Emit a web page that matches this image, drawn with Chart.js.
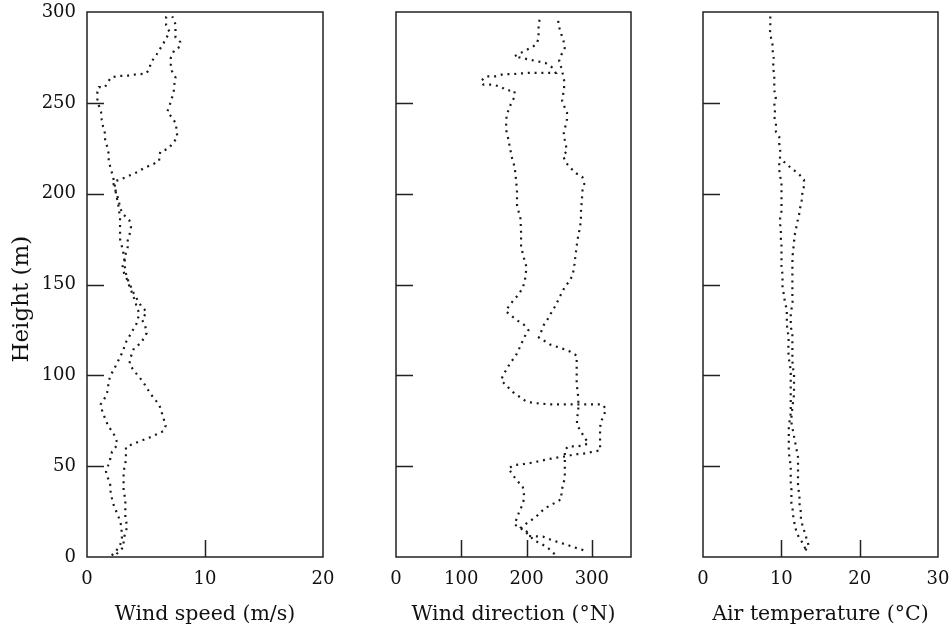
<!DOCTYPE html>
<html>
<head>
<meta charset="utf-8">
<script src="https://cdn.jsdelivr.net/npm/chart.js@4.4.0/dist/chart.umd.min.js"></script>
<style>
  html, body { margin: 0; padding: 0; background: #fff; }
  #wrap { position: relative; width: 951px; height: 627px; overflow: hidden; }
  #wrap canvas { position: absolute; top: 0; }
</style>
</head>
<body>
<div id="wrap">
  <canvas id="speed" style="left:0px" width="345" height="627"></canvas>
  <canvas id="dir" style="left:345px" width="310" height="627"></canvas>
  <canvas id="temp" style="left:655px" width="296" height="627"></canvas>
</div>
<script>
// Profile traces as [value, height (m)] pairs, two passes per variable
const speedA = [[2.1,0.8],[2.74,5.5],[2.97,9.6],[2.91,17],[2.74,21],[2.29,28],[2.12,32],[2.0,36],[2.0,39],[1.8,43],[1.61,47],[1.8,50.5],[1.97,54],[2.12,58],[2.6,62],[2.4,66],[2.15,69],[1.8,72],[1.3,80],[1.16,84],[1.6,88.5],[1.8,92.5],[1.8,96],[2.0,100],[2.3,103.5],[2.8,110],[3.08,114],[3.28,118],[3.59,121.5],[4.2,128.5],[4.43,134],[4.2,138],[4.07,141],[3.84,145],[3.59,149],[3.45,152],[3.15,156],[3.02,160],[3.16,164],[3.08,167.5],[2.94,171.5],[2.8,175],[2.8,179],[2.8,183],[2.8,187],[2.7,191],[2.63,195],[2.47,199],[2.4,203],[2.3,206.5],[2.15,210.7],[2.0,214],[1.84,218],[1.84,222],[1.7,226],[1.53,230],[1.53,233],[1.36,237],[1.24,241],[1.19,245],[1.0,248.6],[0.88,252],[0.88,256],[1.0,258.7],[1.5,258.5],[2.03,264],[2.74,264.8],[3.5,265],[4.2,265.7],[4.97,266],[5.28,268.3],[5.4,272],[5.9,276.6],[6.5,283],[7.0,289],[6.7,292.7],[6.7,297],[6.9,299]];
const speedB = [[2.5,1.6],[3.1,5.5],[3.1,9.6],[3.25,13.4],[3.42,17],[3.25,21],[3.25,24.4],[3.25,28],[3.25,32],[3.1,36],[3.1,39.6],[3.1,43.2],[3.1,47.3],[3.25,51],[3.3,56],[3.3,60.6],[4.6,64],[5.28,65.7],[5.9,67.5],[6.5,69.4],[6.67,72.3],[6.5,76],[6.33,79.6],[6.13,83.7],[5.37,89.9],[5.06,93.2],[4.72,96.7],[4.35,99.6],[3.92,103],[3.6,106.4],[3.7,110],[3.98,114.9],[4.58,117.8],[5.06,123.3],[4.93,127.2],[4.66,130.7],[5.06,134.9],[4.6,138],[4.3,141.3],[3.95,145.3],[3.7,149],[3.5,152],[3.3,156],[3.2,160],[3.2,164],[3.28,167],[3.45,170.6],[3.45,174.3],[3.64,178.3],[3.73,182],[3.59,185.3],[3.08,188.6],[2.8,192],[2.7,196],[2.5,200],[2.2,206.4],[3.0,208.3],[3.6,210],[4.3,212],[4.8,214],[5.5,216],[6.1,217.8],[6.2,223],[6.9,224.8],[7.3,228],[7.65,231],[7.6,235],[7.5,239],[7.2,242],[6.8,245],[7.0,248.6],[7.2,252.7],[7.35,256.5],[7.4,260],[7.5,264],[7.2,267.4],[7.1,271],[7.1,274.7],[7.4,279],[7.9,281],[7.9,283.5],[7.5,286],[7.5,289.6],[7.5,293.2],[7.23,297.6]];

const dirA = [[243,1.6],[232.8,5],[222.5,7.3],[212,9],[204,12],[196,14.5],[189,16.4],[181.3,17.9],[185.4,21.5],[189,25.2],[193.1,28.3],[196.7,32.5],[194.2,38.9],[185.4,42],[178.7,45.3],[172.1,48.8],[181.3,50.6],[195.7,51.2],[209.6,52],[222.5,53],[235.2,54],[248.3,54.8],[262,55.5],[273,56.5],[287.5,56.9],[299.8,57.8],[312.6,58.7],[312.6,62.4],[312.6,66.4],[312.6,70.3],[313.6,74.3],[318.8,78],[321.4,81.6],[316.2,84],[303.4,84],[289.5,84],[276.6,84],[262.7,84],[248.3,84],[235.2,84],[223.5,84.4],[209.6,84.8],[198.3,85.9],[188,88.5],[178.7,90.9],[170,94],[161,97.3],[164.6,100.4],[170,103.7],[176.1,107.4],[183,110.4],[188,114.1],[196.7,121.1],[202.9,124.8],[195.7,128],[185.4,130.3],[176.1,133],[168.4,135.2],[173.6,138.6],[188,144.6],[194.2,148.3],[197.4,152],[200,159.6],[196.9,163.3],[191.6,170.7],[191.6,178.9],[190.7,186.2],[185.4,193.6],[185.4,201],[184.4,205.5],[182.3,213],[180.3,216.7],[177.2,220.3],[175,224.5],[171,231.8],[168.4,235.6],[169.5,243.3],[177.2,250.5],[182.3,253.6],[181.3,256.6],[168.4,257],[160.7,258.9],[146.8,260],[134,260],[129.8,262],[139.1,264.6],[152,264.6],[164.8,265.8],[178.2,265.8],[191.6,266.2],[204.6,266.5],[217.4,266.5],[231.8,266.5],[244.6,266.5],[238.5,269.7],[229.2,271.9],[216.3,272.9],[204.6,273.8],[192.6,274.7],[181.3,275.6],[203.4,279.8],[214.8,282],[218.4,285.4],[218.4,289.6],[218.4,293.2],[221,297.3]];
const dirB = [[286.9,3.8],[273,5.3],[262.7,6.7],[249.8,8],[237,9.5],[225.1,11.2],[212.2,11.4],[201.9,11.6],[200.3,14],[191.6,16.2],[201.9,19],[213.2,21.7],[227.6,26.7],[242,29.5],[253.4,31.9],[253.4,36],[256,39.8],[258.6,43.5],[258.6,47.6],[258.6,51.2],[258.6,54.8],[258.6,58.9],[264,60.9],[277.8,60.9],[286,61.3],[294.8,62.6],[288.6,65.9],[277.3,72.7],[277.3,76.4],[279.3,80.3],[279.3,84],[279.3,87.6],[276.8,95.3],[276.8,99.3],[276.8,103],[276.8,107.2],[276.8,110.9],[266.4,113.1],[254.9,114.7],[236,117],[218.9,120.8],[226.1,127.5],[232.8,131.2],[238,134.5],[244.1,138.2],[248.3,141.3],[253.4,145],[258.6,148.6],[265.3,151.7],[270.4,155],[273,159.6],[274,163.3],[276.6,170.6],[278.1,174.6],[280.2,178.5],[282.2,182.1],[283.3,186.2],[283.3,190],[284.3,194.6],[285.8,201.9],[288.4,205.5],[285.3,209.3],[274,211.6],[259.5,217.4],[256,221.1],[262,223.5],[258.5,229.7],[257,233.4],[259.5,237.1],[262,241],[262,244.6],[258.5,247.4],[254.5,250.9],[256,254.6],[257.5,258.4],[257.5,262.4],[254,268.5],[249.8,272.9],[253.4,276.5],[258.5,280.2],[256.5,284.4],[253.4,287.5],[249.8,291.8],[248.3,295.4]];

const tempA = [[13.06,4.6],[12.7,7.9],[12.25,10.6],[11.9,14.3],[11.7,18],[11.54,21.6],[11.45,25.8],[11.29,29.4],[11.29,33.1],[11.29,37.1],[11.2,40.7],[11.2,44.4],[11.2,48.6],[11.12,52.6],[11.0,56.2],[10.95,59.9],[10.95,63.9],[10.95,68.1],[10.95,71.8],[11.07,75.4],[11.2,79.1],[11.2,82.7],[11.2,86.4],[11.2,90],[11.2,93.7],[11.2,97.7],[11.2,101.3],[11.12,105.5],[10.95,109.3],[10.9,113.3],[10.9,116.9],[10.95,121.1],[10.78,124.8],[10.7,128.5],[10.7,132.5],[10.7,136.2],[10.44,140.4],[10.36,144.1],[10.15,147.7],[10.15,151.8],[10.15,155.4],[10.02,159.9],[10.02,163.9],[10.02,167.5],[10.02,171.2],[9.94,175.2],[9.94,179.1],[9.85,183.1],[9.85,186.7],[10.02,190.4],[10.02,194.9],[10.02,198.6],[10.02,202.3],[10.02,205.9],[9.85,209.5],[9.73,213.2],[9.73,216.8],[9.85,220.5],[9.85,224.1],[9.73,227.8],[9.73,231.4],[9.31,234.1],[9.31,238.7],[9.1,242.3],[9.2,246],[9.1,249.6],[9.31,253.2],[9.1,256.9],[9.1,261.5],[9.1,266],[8.89,269.7],[9.1,273.4],[8.89,277.1],[8.93,280.8],[8.76,284.4],[8.55,288.1],[8.59,291.8],[8.59,295.4],[8.59,299]];
const tempB = [[13.06,3.7],[13.52,5.9],[13.25,9.6],[13.04,12.9],[12.75,16.6],[12.5,20.6],[12.5,24.6],[12.33,28.3],[12.33,32.1],[12.13,39.8],[12.13,43.5],[12.13,47.2],[12.13,50.8],[12.13,55],[11.8,62.4],[11.62,66.4],[11.3,73.7],[11.3,78.3],[11.41,82],[11.5,85.6],[11.62,89.3],[11.62,93],[11.62,96.6],[11.62,100.3],[11.5,103.9],[11.41,107.8],[11.41,111.8],[11.41,115.8],[11.41,119.5],[11.41,123.1],[11.2,126.8],[11.2,130.8],[11.2,135],[11.45,139],[11.41,142.9],[11.41,146.3],[11.41,150.5],[11.41,154.7],[11.41,158.3],[11.41,162],[11.45,166.2],[11.54,169.9],[11.62,173.5],[11.7,177.1],[11.88,180.8],[12.04,184.4],[12.25,188],[12.38,191.7],[12.6,196.3],[12.68,200.1],[12.89,204.1],[12.89,207.7],[12.17,211.2],[11.3,213.8],[10.7,216.3],[9.9,219]];

// Axis ticks
const heightTicks = [0, 50, 100, 150, 200, 250, 300];
const speedTicks = [0, 10, 20];
const dirTicks = [0, 100, 200, 300];
const tempTicks = [0, 10, 20, 30];

const INK = '#1a1a1a';
const TICK_LEN = 17;

Chart.defaults.font.family = '"DejaVu Serif", serif';
Chart.defaults.font.size = 18;
Chart.defaults.color = '#111';

// frame around the plot area plus inward tick marks
const frameAndTicks = {
  id: 'frameAndTicks',
  afterDatasetsDraw(chart) {
    const { ctx, chartArea: a, scales: { x, y } } = chart;
    ctx.save();
    ctx.strokeStyle = '#222';
    ctx.lineWidth = 1.5;
    ctx.strokeRect(a.left, a.top, a.right - a.left, a.bottom - a.top);
    ctx.beginPath();
    x.ticks.forEach(t => {
      const px = Math.round(x.getPixelForValue(t.value)) + 0.5;
      if (px <= a.left + 2 || px >= a.right - 2) return;
      ctx.moveTo(px, a.bottom);
      ctx.lineTo(px, a.bottom - TICK_LEN);
    });
    y.ticks.forEach(t => {
      const py = Math.round(y.getPixelForValue(t.value)) + 0.5;
      if (py <= a.top + 2 || py >= a.bottom - 2) return;
      ctx.moveTo(a.left, py);
      ctx.lineTo(a.left + TICK_LEN, py);
    });
    ctx.stroke();
    ctx.restore();
  }
};

function trace(pairs) {
  return {
    data: pairs.map(p => ({ x: p[0], y: p[1] })),
    showLine: true,
    borderColor: INK,
    borderWidth: 2.2,
    borderDash: [2, 4.8],
    pointRadius: 0,
    tension: 0
  };
}

function makePanel(id, traces, opts) {
  new Chart(document.getElementById(id), {
    type: 'scatter',
    data: { datasets: traces.map(trace) },
    options: {
      responsive: false,
      animation: false,
      devicePixelRatio: 1,
      layout: { padding: { left: opts.padLeft, right: opts.padRight, top: 12, bottom: 0 } },
      plugins: { legend: { display: false }, tooltip: { enabled: false } },
      scales: {
        x: {
          type: 'linear',
          min: opts.xMin,
          max: opts.xMax,
          grid: { display: false, drawTicks: false },
          border: { display: false },
          afterBuildTicks: s => { s.ticks = opts.xTicks.map(v => ({ value: v })); },
          afterFit: s => { s.height = 70; s.paddingLeft = 0; s.paddingRight = 0; },
          ticks: { padding: 12 },
          title: { display: true, text: opts.xTitle, font: { size: 20.5 }, padding: { top: 0, bottom: 0 } }
        },
        y: {
          type: 'linear',
          min: 0,
          max: 300,
          grid: { display: false, drawTicks: false },
          border: { display: false },
          afterBuildTicks: s => { s.ticks = heightTicks.map(v => ({ value: v })); },
          afterFit: s => { s.width = opts.yLabels ? 87 : 0; s.paddingTop = 0; s.paddingBottom = 0; },
          ticks: { display: opts.yLabels, padding: 11 },
          title: { display: opts.yLabels, text: 'Height (m)    ', font: { size: 23 }, padding: { top: 8, bottom: 0 } }
        }
      }
    },
    plugins: [frameAndTicks]
  });
}

makePanel('speed', [speedA, speedB], {
  xMin: 0, xMax: 20, xTicks: speedTicks, xTitle: 'Wind speed (m/s)',
  padLeft: 0, padRight: 22, yLabels: true
});
makePanel('dir', [dirA, dirB], {
  xMin: 0, xMax: 360, xTicks: dirTicks, xTitle: 'Wind direction (°N)',
  padLeft: 51, padRight: 24, yLabels: false
});
makePanel('temp', [tempA, tempB], {
  xMin: 0, xMax: 30, xTicks: tempTicks, xTitle: 'Air temperature (°C)',
  padLeft: 48, padRight: 13, yLabels: false
});
</script>
</body>
</html>
